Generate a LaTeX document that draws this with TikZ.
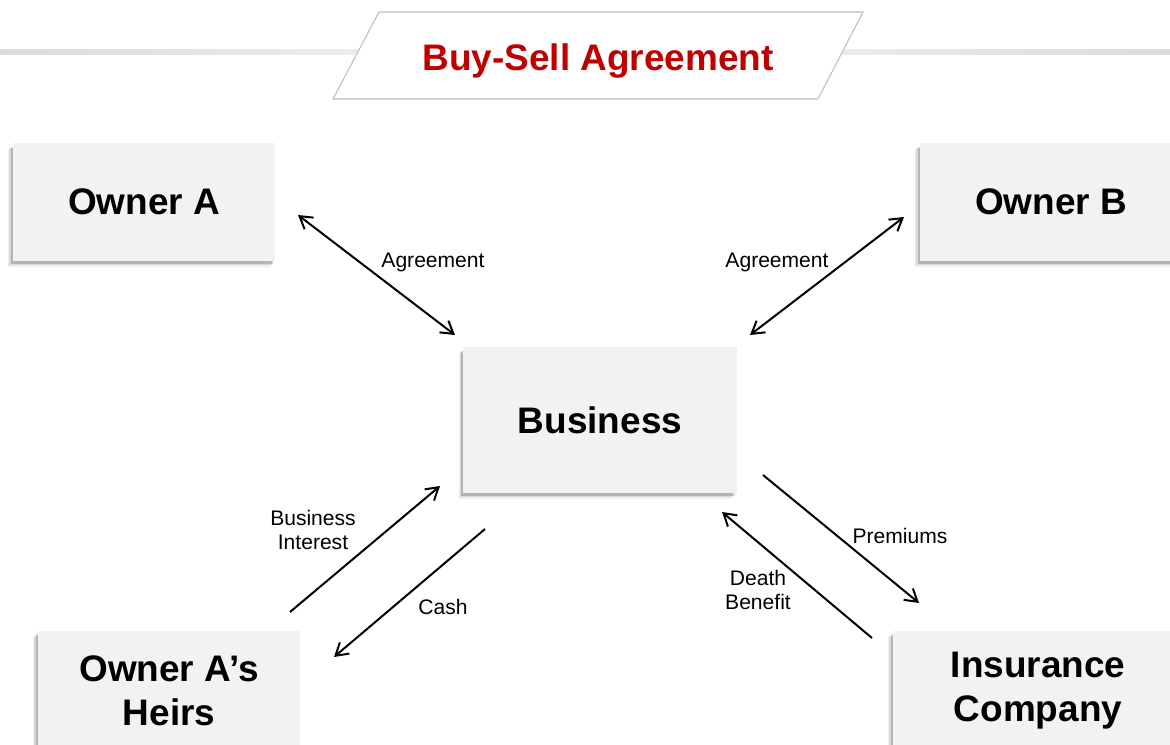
\documentclass[tikz,border=0pt]{standalone}
\usepackage{fontspec}
\setmainfont{Liberation Sans}
\usetikzlibrary{arrows.meta,shadows,backgrounds,positioning}
\definecolor{boxgray}{HTML}{F2F2F2}
\definecolor{titlered}{HTML}{C00000}
\definecolor{framegray}{HTML}{BFBFBF}

\begin{document}
\begin{tikzpicture}[x=0.75pt,y=-0.75pt,>={Straight Barb[length=9pt,width=11pt]}]
  \tikzstyle{party}=[rectangle,fill=boxgray,align=center,font=\fontsize{27.7}{33}\selectfont\bfseries,
    drop shadow={shadow xshift=-3.5pt,shadow yshift=-4.5pt,fill=black,opacity=0.06},
    drop shadow={shadow xshift=-2.5pt,shadow yshift=-3.5pt,fill=black,opacity=0.10},
    drop shadow={shadow xshift=-1.5pt,shadow yshift=-2.5pt,fill=black,opacity=0.16}]
  \tikzstyle{flow}=[align=center,font=\fontsize{15.8}{18}\selectfont]
  \tikzstyle{link}=[line width=1.5pt]

  \clip (0,0) rectangle (1170,745);

  \begin{scope}
    % heading
    \shade [left color=black!14,right color=black!14,middle color=black!3]
      (0,50) rectangle (1170,55);
    \filldraw [fill=white,draw=framegray,line width=0.8pt]
      (379,12) -- (863,12) -- (818,99) -- (333,99) -- cycle;
    \node (title) at (598,61) {\fontsize{27.7}{32}\selectfont\bfseries\color{titlered}Buy-Sell Agreement};
  \end{scope}

  \begin{scope}
    % parties
    \node [party,minimum width=197pt,minimum height=88pt] (ownA)  at (144,202) {Owner A};
    \node [party,minimum width=197pt,minimum height=88pt] (ownB)  at (1051,202) {Owner B};
    \node [party,minimum width=205pt,minimum height=109pt] (biz)  at (600,420) {Business};
    \node [party,minimum width=197pt,minimum height=90pt] (heirs) at (169,691) {Owner A’s\\Heirs};
    \node [party,minimum width=218pt,minimum height=90pt] (ins)   at (1038,691) {Insurance\\Company};
  \end{scope}

  \begin{scope}
    % arrow ends
    \coordinate (ownAend)   at (298,215);
    \coordinate (bizA)      at (455,335);
    \coordinate (ownBend)   at (904,217);
    \coordinate (bizB)      at (750,335);
    \coordinate (heirsOut)  at (290,612);
    \coordinate (bizIn)     at (440,486);
    \coordinate (bizOut)    at (485,529);
    \coordinate (heirsIn)   at (334,657);
    \coordinate (bizPrem)   at (763,475);
    \coordinate (insIn)     at (919,603);
    \coordinate (insOut)    at (872,638);
    \coordinate (bizDeath)  at (722,512);
  \end{scope}

  \begin{scope}
    \path [<->, link] (ownAend) edge (bizA);
    \path [<->, link] (ownBend) edge (bizB);
    \path [->, link] (heirsOut) edge (bizIn);
    \path [->, link] (bizOut) edge (heirsIn);
    \path [->, link] (bizPrem) edge (insIn);
    \path [->, link] (insOut) edge (bizDeath);
  \end{scope}

  \begin{scope}
    % labels
    \node [flow] (agrA)    at (433,262) {Agreement};
    \node [flow] (agrB)    at (777,262) {Agreement};
    \node [flow] (interest) at (313,530) {Business\\Interest};
    \node [flow] (cash)    at (443,607) {Cash};
    \node [flow] (prem)    at (900,536) {Premiums};
    \node [flow] (death)   at (758,590) {Death\\Benefit};
  \end{scope}
\end{tikzpicture}
\end{document}
